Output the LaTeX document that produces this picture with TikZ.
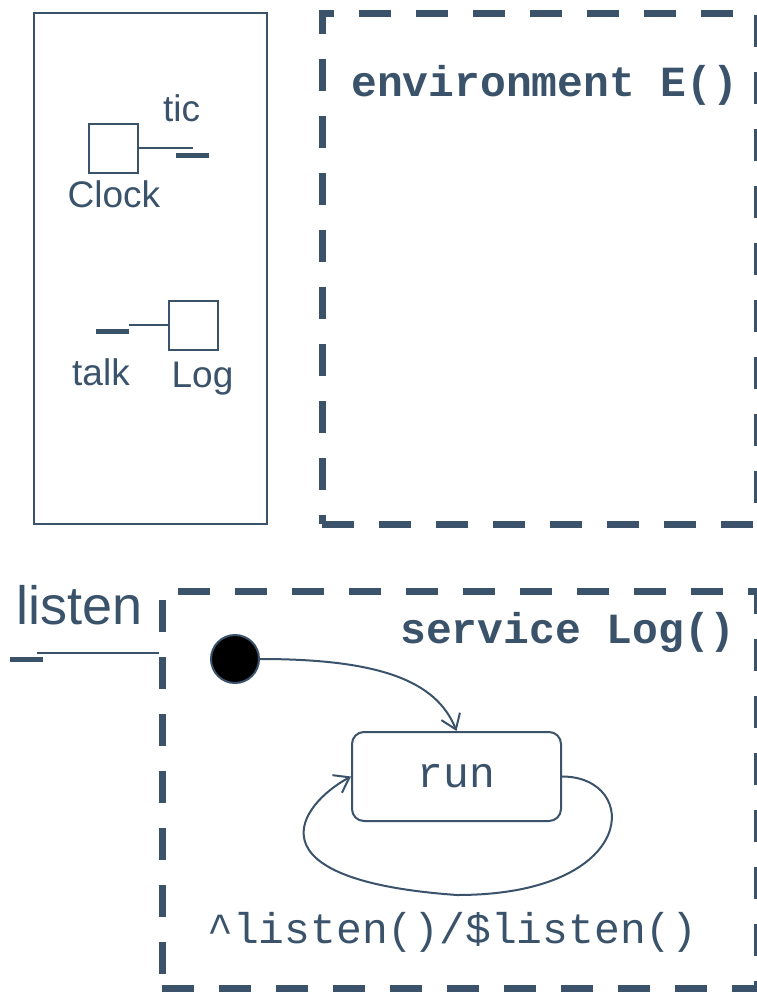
\documentclass[tikz,border=0pt]{standalone}
\usepackage{fontspec}
\setmainfont{Liberation Sans}
\setmonofont{Liberation Mono}
\definecolor{rtslate}{RGB}{58,83,107}
\usetikzlibrary{arrows.meta,positioning}

\begin{document}
\begin{tikzpicture}[x=1pt,y=-1pt,
  frame/.style={draw=rtslate, line width=2pt, inner sep=0pt},
  dashbox/.style={draw=rtslate, line width=7pt, dash pattern=on 32pt off 25pt, inner sep=0pt},
  comp/.style={draw=rtslate, line width=2pt, minimum size=49pt, inner sep=0pt},
  port/.style={fill=rtslate, minimum width=33pt, minimum height=5pt, inner sep=0pt},
  lbl/.style={text=rtslate, font=\fontsize{37}{41}\selectfont, inner sep=0pt, anchor=base},
  kw/.style={text=rtslate, font=\fontsize{43}{47}\selectfont\ttfamily\bfseries, inner sep=0pt, anchor=base west},
  wire/.style={draw=rtslate, line width=2pt},
  trans/.style={draw=rtslate, line width=2pt, -{Straight Barb[length=14pt,width=20pt]}}
]
  \useasboundingbox (0,0) rectangle (756,992);

  %% Component palette (left)
  \node[frame, minimum width=233pt, minimum height=511pt] (palette) at (150.5,268.5) {};

  \node[comp] (clock) at (113.5,148.5) {};
  \node[port] (ticport) at (192.5,156) {};
  \draw[wire] (clock.east) -- (clock.east -| ticport.center);
  \node[lbl] (clocklbl) at (114,208) {Clock};
  \node[lbl] (ticlbl) at (181.5,122) {tic};

  \node[comp] (log) at (193.5,325) {};
  \node[port] (talkport) at (112.5,331) {};
  \draw[wire] (talkport.east |- log.west) -- (log.west);
  \node[lbl] (talklbl) at (101,385) {talk};
  \node[lbl] (loglbl) at (202.5,387) {Log};

  %% Environment
  \node[dashbox, minimum width=435pt, minimum height=510pt] (envbox) at (539.5,269) {};
  \node[kw] (envlbl) at (351,97) {environment E()};

  %% Service Log with its listen port
  \node[dashbox, minimum width=595pt, minimum height=397pt] (svcbox) at (459.5,789.5) {};
  \node[kw] (svclbl) at (400,643) {service Log()};

  \node[port] (listenport) at (26,659) {};
  \coordinate (lwire) at (37,653);
  \draw[wire] (lwire) -- (lwire -| svcbox.west);
  \node[lbl, font=\fontsize{54}{58}\selectfont] (listenlbl) at (80,624) {listen};

  %% State machine
  \node[circle, draw=rtslate, fill=black, line width=2pt, minimum size=48pt, inner sep=0pt] (init) at (235,659) {};
  \node[draw=rtslate, line width=2pt, rounded corners=12pt, minimum width=209pt, minimum height=89pt,
        text=rtslate, font=\fontsize{43}{47}\selectfont\ttfamily] (run) at (456.5,776.5) {run};
  \coordinate (loopbot) at (457,895);

  \draw[trans] (init.east) .. controls +(120,0) and +(-20,-50) .. (run.north);
  \draw[wire] (run.east) .. controls +(79,0) and +(183,0) .. (loopbot);
  \draw[trans] (loopbot) .. controls +(-212,-15) and +(-52,28) .. (run.west);

  \node[kw, font=\fontsize{43}{47}\selectfont\ttfamily] (looplbl) at (207,943) {\^{}listen()/\$listen()};
\end{tikzpicture}
\end{document}
